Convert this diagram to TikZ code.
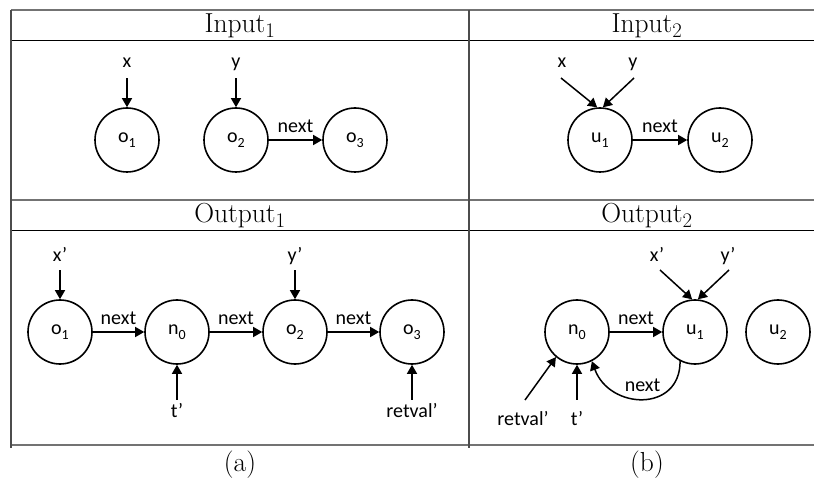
\documentclass[tikz,border=0pt]{standalone}
\usepackage{fontspec}
\newfontfamily\diagfont{Carlito}
\usetikzlibrary{arrows.meta}
% lowered index in node names such as o_1
\newcommand\nodeidx[1]{\raisebox{-4.5pt}{\fontsize{14}{14}\selectfont #1}}
\tikzset{
  obj/.style={circle, draw, line width=1.6pt, minimum size=64pt, inner sep=0pt,
    font=\diagfont\fontsize{20}{24}\selectfont},
  lbl/.style={inner sep=0pt, text height=12pt, text depth=4pt, anchor=base,
    font=\diagfont\fontsize{20}{24}\selectfont},
  ptr/.style={line width=1.5pt, -{Triangle[length=9pt,width=10pt]}},
  edgelbl/.style={lbl, midway, yshift=7pt},
  head/.style={inner sep=0pt, anchor=base, font=\fontsize{27.5}{32}\selectfont},
  outer/.style={line width=1.4pt, draw=black!55},
  inner/.style={line width=0.9pt, draw=black},
  vert/.style={line width=1.2pt, draw=black!70}
}
\begin{document}
\begin{tikzpicture}[x=1pt, y=-1pt]
\useasboundingbox (0,0) rectangle (814,478);

% table rules
\draw[outer] (11,10) -- (814,10);
\draw[inner] (11,40) -- (814,40);
\draw[outer] (11,200) -- (814,200);
\draw[inner] (11,230) -- (814,230);
\draw[outer] (11,445) -- (814,445);
\draw[vert] (11,10) -- (11,448);
\draw[vert] (469,10) -- (469,448);

% column headers and captions
\node[head] (hin1)  at (240,33)  {Input$_1$};
\node[head] (hin2)  at (647,33)  {Input$_2$};
\node[head] (hout1) at (240,223) {Output$_1$};
\node[head] (hout2) at (647,223) {Output$_2$};
\node[head] (capa)  at (240,471) {(a)};
\node[head] (capb)  at (647,471) {(b)};

% ---- Input 1 ----
\node[obj] (a1) at (127,140) {o\nodeidx{1}};
\node[obj] (a2) at (236,140) {o\nodeidx{2}};
\node[obj] (a3) at (355,140) {o\nodeidx{3}};
\node[lbl] (ax) at (127,68) {x};
\node[lbl] (ay) at (236,68) {y};
\draw[ptr, shorten <=6pt] (ax) -- (a1);
\draw[ptr, shorten <=6pt] (ay) -- (a2);
\draw[ptr] (a2) -- node[edgelbl] {next} (a3);

% ---- Input 2 ----
\node[obj] (b1) at (600,140) {u\nodeidx{1}};
\node[obj] (b2) at (720,140) {u\nodeidx{2}};
\node[lbl] (bx) at (562,68) {x};
\node[lbl] (by) at (633,68) {y};
\coordinate (bxs) at (561,78);
\coordinate (bys) at (634,78);
\draw[ptr] (bxs) -- (b1.95);
\draw[ptr] (bys) -- (b1.85);
\draw[ptr] (b1) -- node[edgelbl] {next} (b2);

% ---- Output 1 ----
\node[obj] (c1) at (60,332)  {o\nodeidx{1}};
\node[obj] (c2) at (177,332) {n\nodeidx{0}};
\node[obj] (c3) at (295,332) {o\nodeidx{2}};
\node[obj] (c4) at (412,332) {o\nodeidx{3}};
\node[lbl] (cx) at (60,262)  {x’};
\node[lbl] (cy) at (295,262) {y’};
\node[lbl] (ct) at (177,417) {t’};
\node[lbl] (cr) at (412,417) {retval’};
\draw[ptr, shorten <=4pt] (cx) -- (c1);
\draw[ptr, shorten <=4pt] (cy) -- (c3);
\draw[ptr, shorten <=5pt] (ct) -- (c2);
\draw[ptr, shorten <=5pt] (cr) -- (c4);
\draw[ptr] (c1) -- node[edgelbl] {next} (c2);
\draw[ptr] (c2) -- node[edgelbl] {next} (c3);
\draw[ptr] (c3) -- node[edgelbl] {next} (c4);

% ---- Output 2 ----
\node[obj] (d1) at (577,332) {n\nodeidx{0}};
\node[obj] (d2) at (695,332) {u\nodeidx{1}};
\node[obj] (d3) at (778,332) {u\nodeidx{2}};
\node[lbl] (dx) at (657,262) {x’};
\node[lbl] (dy) at (728,262) {y’};
\node[lbl] (dr) at (523,425) {retval’};
\node[lbl] (dt) at (577,425) {t’};
\coordinate (dxs) at (660,270);
\coordinate (dys) at (729,270);
\coordinate (drs) at (525,400);
\draw[ptr] (dxs) -- (d2.95);
\draw[ptr] (dys) -- (d2.85);
\draw[ptr] (drs) -- (d1.230);
\draw[ptr, shorten <=13pt] (dt) -- (d1);
\draw[ptr] (d1) -- node[edgelbl] {next} (d2);
\draw[ptr] (d2.243) to[out=-90, in=-70, looseness=1.5]
  node[lbl, pos=0.5, yshift=7pt] {next} (d1.297);
\end{tikzpicture}
\end{document}
